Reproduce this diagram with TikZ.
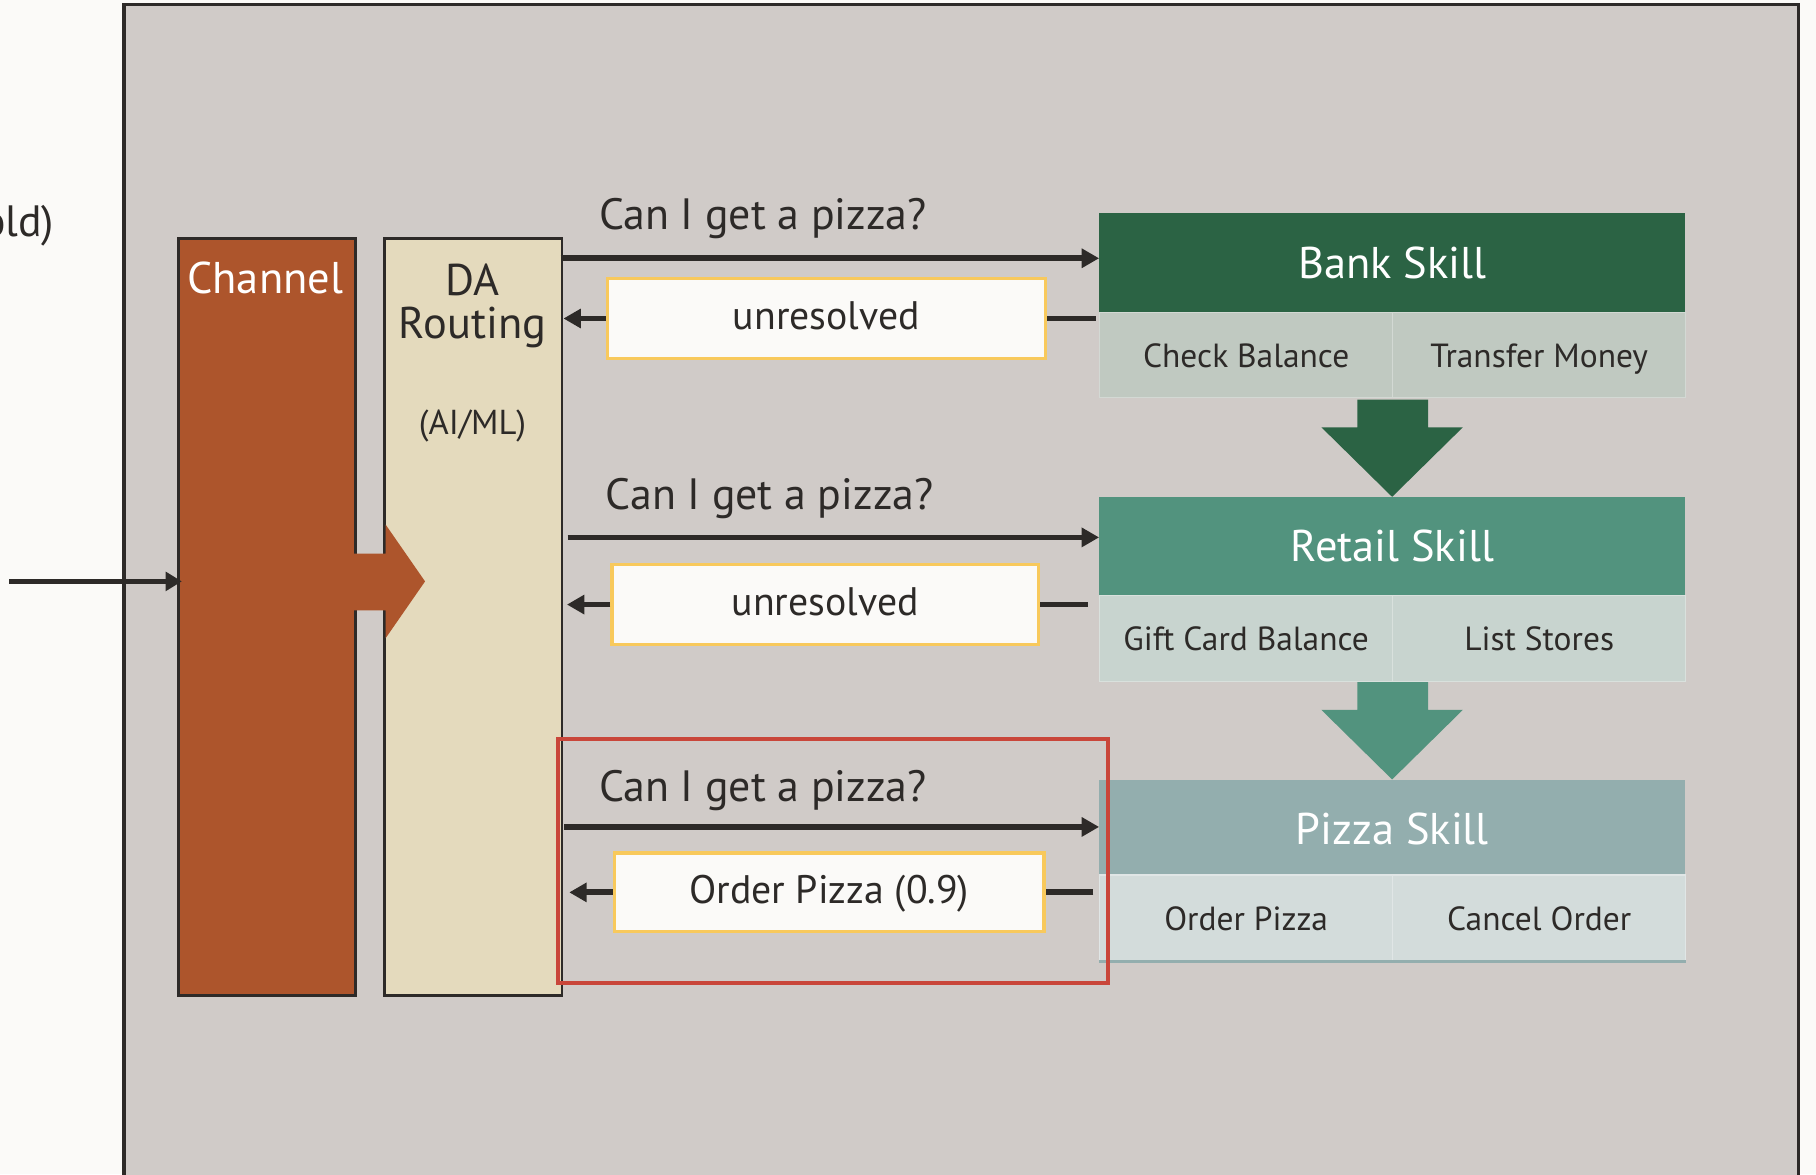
\documentclass[tikz,border=0pt]{standalone}
\usepackage{fontspec}
\setmainfont{PT Sans}
\usetikzlibrary{arrows.meta}

\definecolor{paper}{HTML}{FBFAF8}
\definecolor{panel}{HTML}{D0CBC8}
\definecolor{ink}{HTML}{2D2A28}
\definecolor{rust}{HTML}{AD552C}
\definecolor{cream}{HTML}{E4DABD}
\definecolor{bankgreen}{HTML}{2B6344}
\definecolor{bankcell}{HTML}{C0C9C1}
\definecolor{retailgreen}{HTML}{52937E}
\definecolor{retailcell}{HTML}{C8D4CF}
\definecolor{pizzablue}{HTML}{93AEAE}
\definecolor{pizzacell}{HTML}{D3DCDB}
\definecolor{gold}{HTML}{F8C95C}
\definecolor{alert}{HTML}{C9463A}

\newcommand\askfont{\fontsize{38}{44}\selectfont}
\newcommand\headfont{\fontsize{38.5}{44}\selectfont}
\newcommand\boxfont{\fontsize{34.5}{40}\selectfont}
\newcommand\cellfont{\fontsize{29}{34}\selectfont}
\newcommand\notefont{\fontsize{30}{36}\selectfont}

\tikzset{
  column/.style={draw=ink, line width=2.5bp, minimum width=153bp, minimum height=653bp,
    anchor=north west, inner sep=0pt},
  skillhead/.style={minimum width=506bp, minimum height=85bp, anchor=north west,
    inner sep=0pt, text=white, font=\headfont, text height=27bp, text depth=0bp},
  skillcell/.style={minimum width=253bp, minimum height=74bp, anchor=north west,
    inner sep=0pt, text=ink, font=\cellfont, text height=21bp, text depth=0bp},
  resbox/.style={fill=paper, draw=gold, line width=3bp, anchor=north west, inner sep=0pt,
    text=ink, font=\boxfont, text height=25bp, text depth=6bp},
  ask/.style={anchor=base west, inner sep=0pt, text=ink, font=\askfont},
  flow/.style={draw=ink, line width=5bp, -{Triangle[length=15bp,width=16bp]}},
  ret/.style={draw=ink, line width=5bp},
}

\begin{document}
\begin{tikzpicture}[x=1bp, y=-1bp]
\useasboundingbox (0,0) rectangle (1568,1014);
\fill[paper] (0,0) rectangle (1568,1014);

% text running off the left edge
\node[anchor=base east, inner sep=0pt, text=ink, font=\askfont] (oldnote) at (47,204) {old)};

% main panel
\draw[fill=panel, draw=ink, line width=3bp] (107,4) rectangle (1553,1040);

% channel and routing columns
\node[column, fill=rust] (channel) at (153,205) {};
\node[anchor=base, inner sep=0pt, text=white, font=\headfont] (chantext) at (229,253) {Channel};
\node[column, fill=cream] (da) at (331,205) {};
\node[anchor=base, inner sep=0pt, text=ink, font=\headfont] (datext) at (408,255) {DA};
\node[anchor=base, inner sep=0pt, text=ink, font=\headfont] (routtext) at (408,292) {Routing};
\node[anchor=base, inner sep=0pt, text=ink, font=\notefont] (aiml) at (408,375) {(AI/ML)};

% incoming message
\coordinate (inlet) at (8,502);
\draw[draw=ink, line width=4bp, -{Triangle[length=14bp,width=16bp]}, shorten >=-4bp]
  (inlet) -- (inlet -| channel.west);

% hand-over from channel to routing
\fill[rust] (304,478) -- (333,478) -- (333,453) -- (367,502) -- (333,551) -- (333,527) -- (304,527) -- cycle;

% skills
\node[skillhead, fill=bankgreen] (bank) at (949,184) {Bank Skill};
\node[skillcell, fill=bankcell, draw=bankcell!70!white, line width=1bp] (cb) at (949,269) {Check Balance};
\node[skillcell, fill=bankcell, draw=bankcell!70!white, line width=1bp] (tm) at (1202,269) {Transfer Money};

\node[skillhead, fill=retailgreen] (retail) at (949,429) {Retail Skill};
\node[skillcell, fill=retailcell, draw=retailcell!70!white, line width=1bp] (gcb) at (949,514) {Gift Card Balance};
\node[skillcell, fill=retailcell, draw=retailcell!70!white, line width=1bp] (ls) at (1202,514) {List Stores};

\node[skillhead, fill=pizzablue] (pizza) at (949,673) {Pizza Skill};
\node[skillcell, fill=pizzacell, draw=pizzacell!70!white, line width=1bp] (op) at (949,755) {Order Pizza};
\node[skillcell, fill=pizzacell, draw=pizzacell!70!white, line width=1bp] (co) at (1202,755) {Cancel Order};
\draw[pizzablue, line width=3bp] (op.south west) -- (co.south east);

% fall-through arrows between skills
\fill[bankgreen] (1172,345) -- (1233,345) -- (1233,369) -- (1263,369) -- (1202,429)
  -- (1141,369) -- (1172,369) -- cycle;
\fill[retailgreen] (1172,589) -- (1233,589) -- (1233,613) -- (1263,613) -- (1202,673)
  -- (1141,613) -- (1172,613) -- cycle;

% first attempt: bank skill
\node[ask] (ask1) at (517,198) {Can I get a pizza?};
\coordinate (out1) at (484,223);
\draw[flow] (out1) -- (out1 -| bank.west);
\node[resbox, minimum width=378bp, minimum height=69bp] (res1) at (523,239) {unresolved};
\draw[ret] (res1.east -| bank.west) ++(-3,0) -- (res1.east);
\draw[flow] (res1.west) -- (res1.west -| da.east);

% second attempt: retail skill
\node[ask] (ask2) at (523,440) {Can I get a pizza?};
\coordinate (out2) at (490,464);
\draw[flow] (out2) -- (out2 -| retail.west);
\node[resbox, minimum width=368bp, minimum height=69bp] (res2) at (527,486) {unresolved};
\draw[ret] (res2.east -| retail.west) ++(-10,0) -- (res2.east);
\draw[flow, shorten >=3bp] (res2.west) -- (res2.west -| da.east);

% third attempt: pizza skill
\node[ask] (ask3) at (517,692) {Can I get a pizza?};
\coordinate (out3) at (487,714);
\draw[flow] (out3) -- (out3 -| pizza.west);
\node[resbox, minimum width=371bp, minimum height=68bp] (res3) at (529,735) {Order Pizza (0.9)};
\draw[ret] (res3.east -| pizza.west) ++(-5,0) -- (res3.east);
\draw[flow, shorten >=5bp] (res3.west) -- (res3.west -| da.east);

% highlight of the resolved attempt
\draw[alert, line width=3.5bp] (482,638) rectangle (957,849);
\end{tikzpicture}
\end{document}
